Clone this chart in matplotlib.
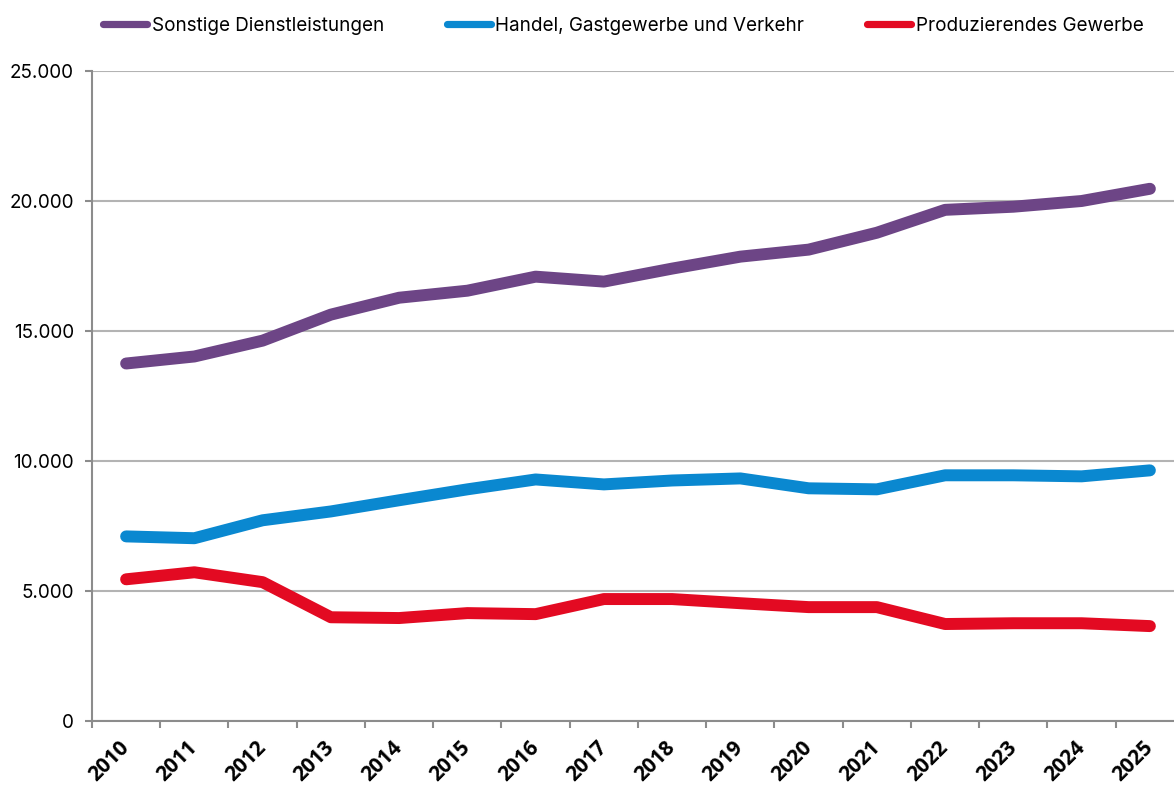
import numpy as np
import matplotlib.pyplot as plt
from matplotlib.ticker import FuncFormatter

# ── Daten ───────────────────────────────────────────────────────────────────
jahre = [str(j) for j in range(2010, 2026)]

sonstige_dl = [13750, 14020, 14630, 15630, 16280, 16550, 17090, 16900,
               17400, 17860, 18130, 18780, 19660, 19780, 20000, 20470]
handel_verkehr = [7100, 7030, 7720, 8060, 8490, 8910, 9290, 9100,
                  9250, 9330, 8950, 8910, 9450, 9450, 9410, 9640]
produzierend = [5450, 5720, 5340, 3990, 3960, 4150, 4110, 4690,
                4690, 4530, 4380, 4380, 3730, 3760, 3760, 3650]

serien = [
    ("Sonstige Dienstleistungen", sonstige_dl, "#6d4586"),
    ("Handel, Gastgewerbe und Verkehr", handel_verkehr, "#0a88d0"),
    ("Produzierendes Gewerbe", produzierend, "#e30a22"),
]

plt.rcParams['font.family'] = ['Inter', 'DejaVu Sans']

fig = plt.figure(figsize=(11.74, 7.92), dpi=100)
# Plotbereich reicht rechts etwas über den Bildrand hinaus (wie im Original)
ax = fig.add_axes([92 / 1174, 71 / 792, (1184 - 92) / 1174, 650 / 792])

x = np.arange(len(jahre))
for name, vals, color in serien:
    ax.plot(x, vals, color=color, linewidth=8.6, solid_capstyle='round',
            solid_joinstyle='round', label=name)

ax.set_xlim(-0.5, len(jahre) - 0.5)
ax.set_ylim(0, 25000)
ax.set_yticks(np.arange(0, 25001, 5000))
ax.yaxis.set_major_formatter(FuncFormatter(lambda v, p: f"{int(v):,}".replace(",", ".")))
ax.grid(axis='y', color='#b3b3b3', linewidth=1.5)
ax.set_axisbelow(True)

ax.set_xticks(x)
ax.set_xticklabels(jahre, rotation=45, ha='right', va='center',
                   rotation_mode='anchor', fontweight='bold', fontsize=15,
                   family=['Open Sans', 'DejaVu Sans'])
ax.set_xticks(np.arange(-0.5, len(jahre)), minor=True)
ax.tick_params(axis='x', which='major', length=0, pad=17)
ax.tick_params(axis='x', which='minor', length=5, width=1.5, color='#8c8c8c')
ax.tick_params(axis='y', length=5, width=1.5, color='#8c8c8c', labelsize=13.6, pad=8)

for s in ['top', 'right']:
    ax.spines[s].set_visible(False)
for s in ['left', 'bottom']:
    ax.spines[s].set_color('#8c8c8c')
    ax.spines[s].set_linewidth(1.5)

leg = fig.legend(loc='upper center', bbox_to_anchor=(0.531, 1.0), ncol=3, frameon=False,
                 fontsize=13.6, handlelength=2.3, handletextpad=0.25, columnspacing=3.35)
for h in leg.get_lines():
    h.set_linewidth(5.2)

plt.savefig('out.png', dpi=100)
